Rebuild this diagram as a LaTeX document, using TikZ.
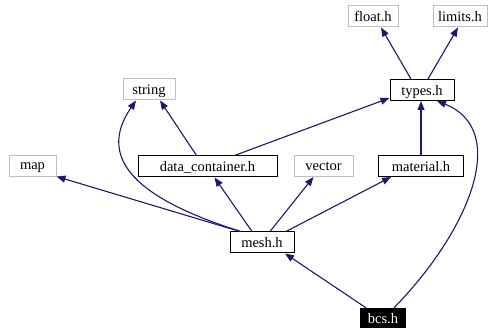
\documentclass[tikz,border=0pt]{standalone}
\usepackage{fontspec}
\setmainfont{Liberation Serif}
\usetikzlibrary{arrows.meta, positioning, calc}
\definecolor{dep}{HTML}{191970}
\definecolor{sysgray}{HTML}{BFBFBF}

\begin{document}
\begin{tikzpicture}[
    x=1pt, y=-1pt,
    font=\fontsize{14.5}{16}\selectfont,
    >={Triangle[length=9pt, width=7pt]},
    % Estilos dos arquivos
    box/.style={rectangle, align=center, inner sep=0pt, minimum height=21pt, text depth=0pt},
    hdr/.style={box, draw=black, line width=1pt},
    sys/.style={box, draw=sysgray, line width=1pt},
    root/.style={box, fill=black, text=white},
    dep/.style={->, draw=dep, line width=1.1pt}
]
    \useasboundingbox (0,0) rectangle (490,328);

    % ================= 1. CABEÇALHOS DO SISTEMA =================
    \node[sys, minimum width=50pt] (float) at (373, 16.5) {float.h};
    \node[sys, minimum width=54pt] (limits) at (460, 16.5) {limits.h};
    \node[sys, minimum width=52pt] (string) at (149, 89.5) {string};
    \node[sys, minimum width=47pt] (map) at (32.5, 166.5) {map};
    \node[sys, minimum width=59pt] (vector) at (323.5, 166) {vector};

    % ================= 2. CABEÇALHOS DO PROJETO =================
    \node[hdr, minimum width=64pt] (types) at (422, 90) {types.h};
    \node[hdr, minimum width=139pt] (dc) at (207.5, 166.5) {data\_container.h};
    \node[hdr, minimum width=85pt] (material) at (421, 166) {material.h};
    \node[hdr, minimum width=64pt] (mesh) at (262, 242.5) {mesh.h};

    % ================= 3. ARQUIVO RAIZ =================
    \node[root, minimum width=46pt, minimum height=20pt] (bcs) at (383, 318) {bcs.h};

    % ================= DEPENDÊNCIAS =================

    % types.h
    \draw[dep] ([xshift=-11pt]types.north) -- ([xshift=8pt]float.south);
    \draw[dep] ([xshift=6pt]types.north) -- ([xshift=-2pt]limits.south);

    % data_container.h
    \draw[dep] ([xshift=-11pt]dc.north) -- ([xshift=11pt]string.south);
    \draw[dep] ([xshift=27pt]dc.north) -- ([yshift=3pt]types.south west);

    % material.h
    \draw[dep] (material.north) -- (material.north |- types.south);

    % mesh.h
    \draw[dep] ([xshift=-22pt]mesh.north) -- ([yshift=1pt]map.south east);
    \draw[dep] ([xshift=-21pt]mesh.north) .. controls (140, 200) and (95, 160) .. ([xshift=-13pt]string.south);
    \draw[dep] ([xshift=-10pt]mesh.north) -- ([xshift=7pt]dc.south);
    \draw[dep] ([xshift=8pt]mesh.north) -- ([xshift=-10pt]vector.south);
    \draw[dep] ([xshift=24pt]mesh.north) -- ([xshift=-30pt]material.south);

    % bcs.h
    \draw[dep] ([xshift=-17pt]bcs.north) -- ([xshift=23pt]mesh.south);
    \draw[dep] ([xshift=11pt]bcs.north) .. controls (470, 230) and (510, 130) .. ([xshift=15pt]types.south);

\end{tikzpicture}
\end{document}
